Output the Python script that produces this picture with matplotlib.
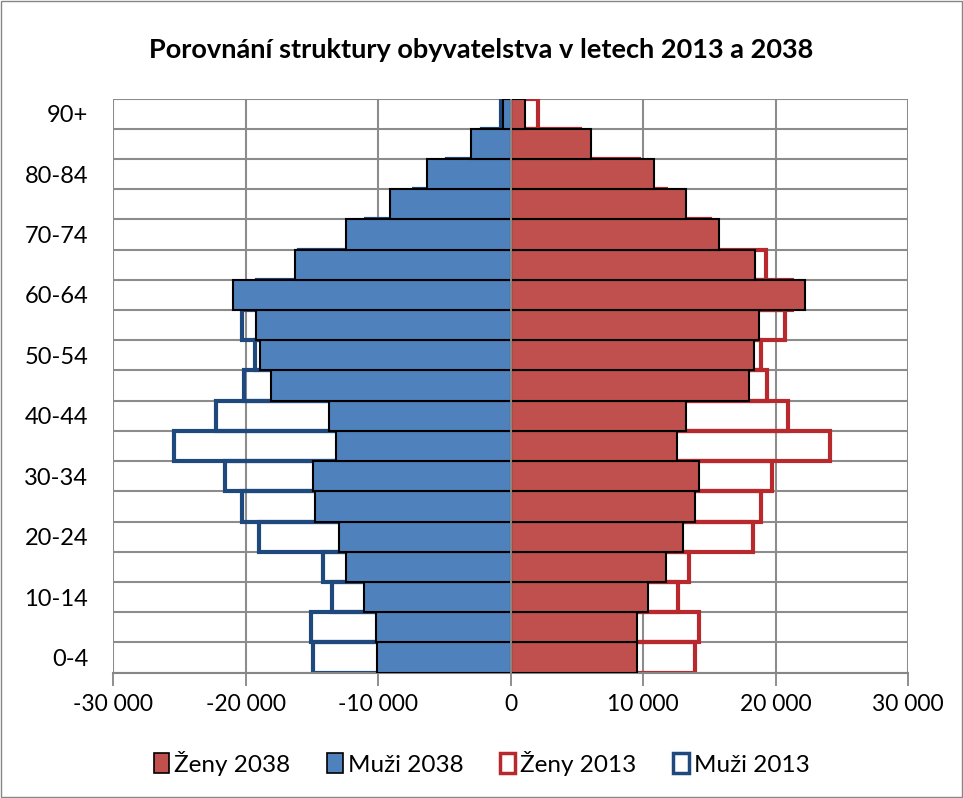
import numpy as np
import matplotlib
matplotlib.use("Agg")
import matplotlib.pyplot as plt
from matplotlib.patches import Patch, Rectangle

plt.rcParams['font.family'] = ['Lato', 'DejaVu Sans']

# vekove skupiny od nejmladsi
skupiny = ['0-4', '5-9', '10-14', '15-19', '20-24', '25-29', '30-34', '35-39',
           '40-44', '45-49', '50-54', '55-59', '60-64', '65-69', '70-74',
           '75-79', '80-84', '85-89', '90+']

muzi_2038 = [10040, 10160, 11020, 12400, 12960, 14720, 14890, 13180, 13680,
             18100, 18870, 19220, 20980, 16250, 12400, 9130, 6290, 2970, 600]
zeny_2038 = [9510, 9580, 10390, 11720, 13030, 13940, 14210, 12550, 13280,
             17990, 18360, 18790, 22190, 18440, 15770, 13280, 10820, 6110, 1080]
muzi_2013 = [14890, 15090, 13460, 14160, 18970, 20280, 21580, 25410, 22190,
             20080, 19250, 20250, 19100, 15980, 10940, 7300, 4780, 2140, 750]
zeny_2013 = [13960, 14260, 12650, 13460, 18310, 18890, 19700, 24100, 20930,
             19370, 18940, 20750, 21260, 19320, 15040, 11700, 9690, 5280, 2060]

c_zeny = '#C0504D'
c_muzi = '#4F81BD'
c_zeny13 = '#B7292C'
c_muzi13 = '#1F497D'

fig = plt.figure(figsize=(9.63, 7.98), dpi=100)
ax = fig.add_axes([113/963, 1-672.7/798, (908-113)/963, (672.7-98.5)/798])

y = np.arange(len(skupiny))

# 2013 jen obrys, vzadu
ax.barh(y, np.array(zeny_2013), height=1.0, fill=False, edgecolor=c_zeny13, linewidth=3, zorder=2)
ax.barh(y, -np.array(muzi_2013), height=1.0, fill=False, edgecolor=c_muzi13, linewidth=3, zorder=2)
# 2038 vyplnene
ax.barh(y, np.array(zeny_2038), height=1.0, color=c_zeny, edgecolor='black', linewidth=1.5, zorder=3)
ax.barh(y, -np.array(muzi_2038), height=1.0, color=c_muzi, edgecolor='black', linewidth=1.5, zorder=3)

ax.axvline(0, color='#868686', linewidth=1.5, zorder=4)

ax.set_xlim(-30000, 30000)
ax.set_ylim(-0.5, len(skupiny) - 0.5)

xt = np.arange(-30000, 30001, 10000)
ax.set_xticks(xt)
ax.set_xticklabels([f'{v:,}'.replace(',', ' ') for v in xt], fontsize=16.5)
ax.set_yticks(y[::2])
ax.set_yticklabels(skupiny[::2], fontsize=17)
ax.set_yticks(np.arange(-0.5, len(skupiny)), minor=True)
ax.tick_params(axis='y', which='both', length=0, pad=18)
ax.tick_params(axis='x', length=9, width=1.3, color='#868686', pad=6)

ax.grid(True, axis='x', which='major', color='#8c8c8c', linewidth=1.5, zorder=0)
ax.grid(True, axis='y', which='minor', color='#8c8c8c', linewidth=1.5, zorder=0)
ax.set_axisbelow(True)
for s in ax.spines.values():
    s.set_visible(False)
ax.spines['bottom'].set_visible(True)
ax.spines['bottom'].set_color('#868686')
ax.spines['bottom'].set_linewidth(1.5)

fig.text(0.5, 1 - 50/798, 'Porovnání struktury obyvatelstva v letech 2013 a 2038',
         ha='center', va='center', fontsize=19.5, fontweight='bold')

handles = [Patch(facecolor=c_zeny, edgecolor='black', linewidth=1.2, label='Ženy 2038'),
           Patch(facecolor=c_muzi, edgecolor='black', linewidth=1.2, label='Muži 2038'),
           Patch(facecolor='white', edgecolor=c_zeny13, linewidth=2.5, label='Ženy 2013'),
           Patch(facecolor='white', edgecolor=c_muzi13, linewidth=2.5, label='Muži 2013')]
fig.legend(handles=handles, loc='center', bbox_to_anchor=(0.5, 1 - 763/798), ncol=4,
           frameon=False, fontsize=17.5, handlelength=0.65, handleheight=0.9,
           handletextpad=0.2, columnspacing=1.5)

fig.patches.append(Rectangle((0.001, 0.001), 0.998, 0.998, transform=fig.transFigure,
                             fill=False, edgecolor='#868686', linewidth=1))

fig.savefig('out.png', dpi=100)
